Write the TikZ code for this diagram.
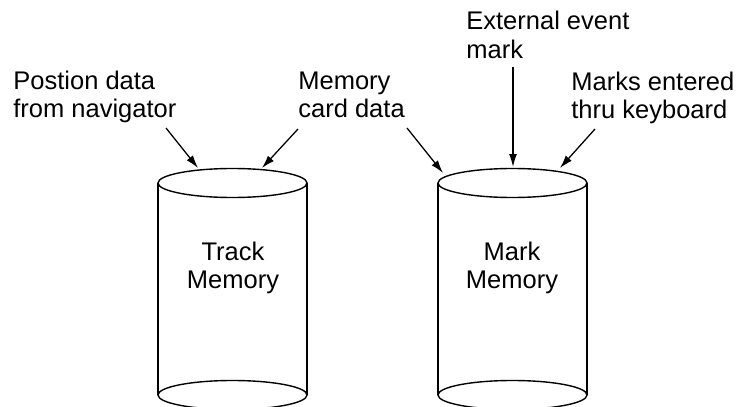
\documentclass[tikz,border=0pt]{standalone}
\usepackage{fontspec}
\setmainfont{Liberation Sans}
\usetikzlibrary{arrows.meta}
\tikzset{
  inlbl/.style={anchor=base west,align=left,inner sep=0pt,font=\fontsize{12.75}{14}\selectfont},
  memlbl/.style={anchor=base,align=center,inner sep=0pt,font=\fontsize{12.75}{14}\selectfont},
  feed/.style={-{Latex[length=6.5pt,width=4pt]},line width=0.65pt},
}

\begin{document}
\begin{tikzpicture}[x=0.5pt,y=-0.5pt]
  \clip (0,0) rectangle (746,407);
  % the two memories
  \foreach \cx in {232.5,512.5}{
    \draw[line width=0.7pt] (\cx,183) ellipse [x radius=74.5,y radius=14.5];
    \draw[line width=0.7pt] (\cx-74.5,183) -- (\cx-74.5,395) (\cx+74.5,183) -- (\cx+74.5,395);
    \draw[line width=0.7pt] (\cx,395) ellipse [x radius=74.5,y radius=14.5];}
  \node[memlbl] (trk) at (233,288) {Track\\Memory};
  \node[memlbl] (mrk) at (512,288) {Mark\\Memory};
  % inputs
  \node[inlbl] (pos) at (13,118) {Postion data\\from navigator};
  \node[inlbl] (card) at (298,118) {Memory\\card data};
  \node[inlbl] (ext) at (466,58) {External event\\mark};
  \node[inlbl] (keys) at (571,119) {Marks entered\\thru keyboard};
  \coordinate (pos-t) at (166,128);  \coordinate (pos-h) at (198,168);
  \coordinate (card-t) at (298,129); \coordinate (card-h) at (262,168);
  \coordinate (card2-t) at (407,128); \coordinate (card2-h) at (443,173);
  \coordinate (ext-t) at (513,67);   \coordinate (ext-h) at (513,167);
  \coordinate (keys-t) at (595,129); \coordinate (keys-h) at (560,168);
  \foreach \s in {pos,card,card2,ext,keys}
    \draw[feed] (\s-t) -- (\s-h);
\end{tikzpicture}
\end{document}
